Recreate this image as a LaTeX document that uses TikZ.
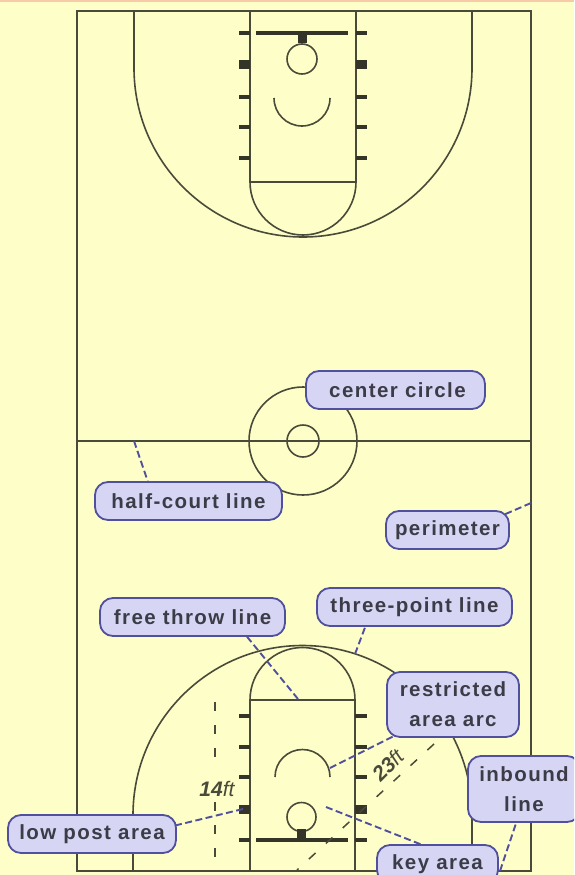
\documentclass[tikz,border=0pt]{standalone}
\usepackage{fontspec}
\setmainfont{Liberation Sans}
\newfontfamily\labfont[LetterSpace=7]{Liberation Sans Bold}
\newfontfamily\dimfont{Liberation Sans}
\pgfdeclarelayer{background}
\pgfsetlayers{background,main}
\definecolor{paper}{HTML}{FEFEC8}
\definecolor{strip}{HTML}{F8CBA8}
\definecolor{ink}{HTML}{4A4A3A}
\definecolor{tag}{HTML}{D6D6F4}
\definecolor{tagline}{HTML}{50509E}
\definecolor{tagtext}{HTML}{3C3C48}
\tikzset{
 court/.style={draw=ink,line width=1.6pt},
 heavy/.style={draw=ink!70!black,line width=3.2pt},
 post/.style={draw=ink!70!black,line width=9pt},
 tagbox/.style={draw=tagline,fill=tag,line width=1.8pt,rounded corners=13pt,inner sep=0pt,
   font=\labfont\fontsize{20.5}{30}\selectfont,text=tagtext,align=center},
 leader/.style={draw=tagline,line width=1.9pt,dash pattern=on 7pt off 3.5pt,shorten >=-5pt},
 measure/.style={draw=ink,line width=1.5pt,dash pattern=on 9pt off 14pt},
 dimlabel/.style={inner sep=0pt,text=ink,font=\dimfont\itshape\fontsize{21}{22}\selectfont}
}
\begin{document}
\begin{tikzpicture}[x=1pt,y=-1pt]
\clip (0,0) rectangle (574,875);
\useasboundingbox (0,0) rectangle (574,875);
% labels
\node[tagbox,minimum width=179pt,minimum height=38pt] (cc) at (395.5,390) {\hspace*{4pt}center circle};
\node[tagbox,minimum width=187pt,minimum height=38pt] (hc) at (188.5,501) {half-court line};
\node[tagbox,minimum width=123pt,minimum height=38pt] (pe) at (447.5,530) {perimeter};
\node[tagbox,minimum width=185pt,minimum height=38pt] (ft) at (192.5,617) {free throw line};
\node[tagbox,minimum width=195pt,minimum height=38pt] (tp) at (414.5,607) {three-point line};
\node[tagbox,minimum width=132pt,minimum height=65pt] (ra) at (453,704.5) {restricted\\area arc};
\node[tagbox,minimum width=112pt,minimum height=66pt] (ib) at (524,789) {inbound\\line};
\node[tagbox,minimum width=168pt,minimum height=38pt] (lp) at (92,834) {low post area};
\node[tagbox,minimum width=121pt,minimum height=38pt] (ka) at (437.5,864) {key area};
\node[dimlabel] (d14) at (217,789) {\textbf{14}ft};
\node[dimlabel,rotate=45] (d23) at (388,765) {\textbf{23}ft};
% free ends
\coordinate (ehc) at (134,441);
\coordinate (epe) at (531,503);
\coordinate (eft) at (298,699);
\coordinate (etp) at (355,654);
\coordinate (era) at (330,768);
\coordinate (eib) at (500,871);
\coordinate (eka) at (326,807);
\coordinate (elp) at (243,809);
\coordinate (m14a) at (215,702);
\coordinate (m14b) at (215,770);
\coordinate (m14c) at (215,860);
\coordinate (m14d) at (215,802);
\coordinate (m23a) at (434,744);
\coordinate (m23b) at (297,870);
\begin{pgfonlayer}{background}
\fill[paper] (0,0) rectangle (574,875);
\fill[strip] (0,0) rectangle (574,2.5);
% perimeter and half-court
\draw[court] (77,11) rectangle (531,871);
\draw[court] (77,441) -- (531,441);
\draw[court] (303,441) circle[radius=54];
\draw[court] (303,441) circle[radius=16];
% top end
\draw[court] (134,11) -- (134,68) arc[start angle=180,end angle=0,radius=169] -- (472,11);
\draw[court] (250,11) rectangle (356,182);
\draw[court] (250,182) arc[start angle=180,end angle=0,radius=53];
\draw[court] (302,59) circle[radius=15];
\draw[court] (274,98) arc[start angle=180,end angle=0,radius=28];
\draw[heavy] (256,33) -- (348,33);
\draw[post] (302,33) -- (302,43);
\foreach \y in {33,97,127,158}{
 \draw[heavy] (239,\y) -- (250,\y);
 \draw[heavy] (356,\y) -- (367,\y);
}
\draw[post] (239,65) -- (250,65);
\draw[post] (356,65) -- (367,65);
% bottom end
\draw[court] (133,871) -- (133,815) arc[start angle=180,end angle=360,radius=169.5] -- (472,871);
\draw[court] (250,871) -- (250,700) -- (355,700) -- (355,871);
\draw[court] (250,700) arc[start angle=180,end angle=360,radius=52.5];
\draw[court] (301.5,817) circle[radius=14.5];
\draw[court] (275,777) arc[start angle=180,end angle=360,radius=27.5];
\draw[heavy] (256,840) -- (348,840);
\draw[post] (301.5,840) -- (301.5,829);
\foreach \y in {716,747,777,840}{
 \draw[heavy] (239,\y) -- (250,\y);
 \draw[heavy] (355,\y) -- (367,\y);
}
\draw[post] (239,809) -- (250,809);
\draw[post] (355,809) -- (367,809);
% measurements
\draw[measure] (m14a) -- (m14b);
\draw[measure] (m14d) -- (m14c);
\draw[measure] (m23a) -- (m23b);
% leaders
\draw[leader] (ehc) -- (hc.154.3);
\draw[leader] (epe) -- (pe.16);
\draw[leader] (eft) -- (ft.-20.6);
\draw[leader] (etp) -- (tp.202.4);
\draw[leader] (era) -- (ra.208.2);
\draw[leader] (eib) -- (ib.-103.6);
\draw[leader] (eka) -- (ka.131);
\draw[leader] (elp) -- (lp.6.1);
\end{pgfonlayer}
\end{tikzpicture}
\end{document}
